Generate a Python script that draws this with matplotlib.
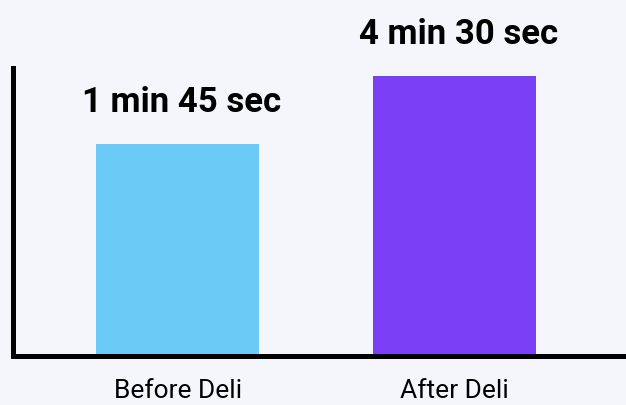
import matplotlib
matplotlib.use("Agg")
import matplotlib.pyplot as plt

categories = ["Before Deli", "After Deli"]
bar_heights = [75.7, 100.0]  # relative bar heights as drawn
value_labels = ["1 min 45 sec", "4 min 30 sec"]
colors = ["#6ccbf6", "#7b3ff5"]

plt.rcParams['font.family'] = ['Roboto', 'DejaVu Sans']

bg = "#f4f6fb"
fig = plt.figure(figsize=(6.26, 4.06), dpi=100, facecolor=bg)
ax = fig.add_axes([12.5/626, (406-357)/406, (626-12.5)/626, (357-69)/406])
ax.set_facecolor(bg)

x = list(range(len(categories)))
bars = ax.bar(x, bar_heights, width=0.59, color=colors, zorder=1)

for xi, h, lab in zip(x, bar_heights, value_labels):
    ax.annotate(lab, (xi, h), xytext=(3.2, 24.0), textcoords="offset points",
                ha="center", va="baseline", fontsize=25, fontweight="bold",
                color="#000000")

ax.set_xlim(-0.596, 1.619)
ax.set_ylim(0, 288/280*100)
ax.set_xticks(x)
ax.set_xticklabels(categories, fontsize=19, color="#000000")
ax.tick_params(axis="x", length=0, pad=16)
ax.set_yticks([])
for s in ["top", "right"]:
    ax.spines[s].set_visible(False)
for s in ["left", "bottom"]:
    ax.spines[s].set_linewidth(3.6)
    ax.spines[s].set_color("black")
    ax.spines[s].set_zorder(3)

fig.savefig("out.png", dpi=100, facecolor=bg)
